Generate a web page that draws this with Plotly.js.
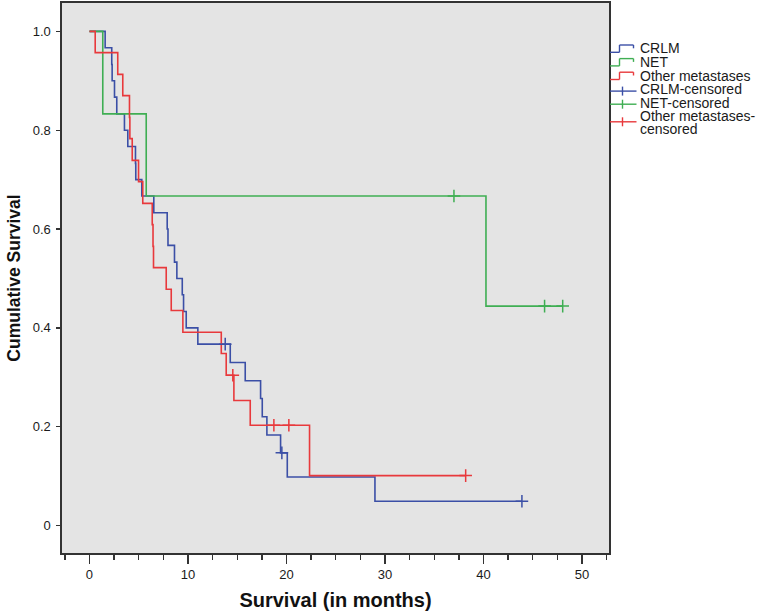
<!DOCTYPE html>
<html>
<head>
<meta charset="utf-8">
<script src="https://cdn.plot.ly/plotly-3.0.1.min.js"></script>
<style>html,body{margin:0;padding:0;background:#fff;}#chart{width:764px;height:616px;}</style>
</head>
<body>
<div id="chart"></div>
<script>
// ---- Data ----
const seriesNames = ["CRLM", "NET", "Other metastases"];

const crlmTime = [0, 1.59, 2.26, 2.30, 2.54, 2.77, 3.55, 3.89, 4.67, 4.70, 5.31, 6.53, 7.89, 7.97, 8.63, 8.87, 9.42, 9.55, 9.82, 11.0, 14.29, 15.81, 17.37, 17.54, 18.01, 19.40, 20.08, 28.98, 43.9];
const crlmSurv = [1, 0.967, 0.933, 0.900, 0.867, 0.833, 0.800, 0.767, 0.733, 0.700, 0.667, 0.633, 0.600, 0.567, 0.533, 0.500, 0.467, 0.433, 0.400, 0.367, 0.330, 0.293, 0.257, 0.220, 0.183, 0.147, 0.098, 0.049, 0.049];
const crlmCensTime = [13.78, 19.53, 43.9];
const crlmCensSurv = [0.367, 0.147, 0.049];

const netTime = [0, 1.35, 5.76, 40.25, 48.04];
const netSurv = [1, 0.833, 0.667, 0.444, 0.444];
const netCensTime = [37.0, 46.2, 48.04];
const netCensSurv = [0.667, 0.444, 0.444];

const otherTime = [0, 0.58, 2.87, 3.38, 4.06, 4.10, 4.34, 4.98, 5.41, 6.37, 6.45, 6.50, 7.79, 8.30, 9.48, 13.38, 13.88, 14.66, 16.32, 22.34, 38.19];
const otherSurv = [1, 0.957, 0.913, 0.870, 0.826, 0.783, 0.739, 0.696, 0.652, 0.609, 0.565, 0.522, 0.478, 0.435, 0.391, 0.348, 0.304, 0.253, 0.203, 0.101, 0.101];
const otherCensTime = [14.55, 18.72, 20.24, 38.19];
const otherCensSurv = [0.304, 0.203, 0.203, 0.101];

const xTickVals = [0, 10, 20, 30, 40, 50];
const yTickVals = [0, 0.2, 0.4, 0.6, 0.8, 1.0];
const yTickText = ["0", "0.2", "0.4", "0.6", "0.8", "1.0"];

const legendLabels = ["CRLM", "NET", "Other metastases", "CRLM-censored", "NET-censored", "Other metastases-", "censored"];

// ---- Styling ----
const BLUE = "#3b4fa6", GREEN = "#3fae53", RED = "#e8393c";
const AXIS = "#333333";

function stepTrace(x, y, color, name) {
  return {x: x, y: y, type: "scatter", mode: "lines", name: name,
          line: {shape: "hv", color: color, width: 1.6}, hoverinfo: "skip"};
}
function censTrace(x, y, color, name) {
  return {x: x, y: y, type: "scatter", mode: "markers", name: name,
          marker: {symbol: "cross-thin", size: 9, color: color, line: {color: color, width: 1.5}}, hoverinfo: "skip"};
}

const data = [
  stepTrace(crlmTime, crlmSurv, BLUE, seriesNames[0]),
  stepTrace(netTime, netSurv, GREEN, seriesNames[1]),
  stepTrace(otherTime, otherSurv, RED, seriesNames[2]),
  censTrace(crlmCensTime, crlmCensSurv, BLUE, seriesNames[0] + "-censored"),
  censTrace(netCensTime, netCensSurv, GREEN, seriesNames[1] + "-censored"),
  censTrace(otherCensTime, otherCensSurv, RED, seriesNames[2] + "-censored")
];

// ---- Custom legend (pixel -> paper helpers) ----
const M = {l: 62, r: 155, t: 3, b: 63};
const W = 764 - M.l - M.r, H = 616 - M.t - M.b;
const px = v => (v - M.l) / W;
const py = v => 1 - (v - M.t) / H;

const shapes = [];
const annotations = [];
const legColors = [BLUE, GREEN, RED];
const rowY = [48.3, 61.9, 75.5, 89.1, 102.7, 116.3, 129.0];
for (let i = 0; i < 3; i++) {
  const c = rowY[i];
  const pts = [[610, c + 4], [619.5, c + 4], [619.5, c - 3.3], [633.5, c - 3.3], [633.5, c]];
  for (let k = 0; k < pts.length - 1; k++) {
    shapes.push({type: "line", xref: "paper", yref: "paper",
      x0: px(pts[k][0]), y0: py(pts[k][1]), x1: px(pts[k + 1][0]), y1: py(pts[k + 1][1]),
      line: {color: legColors[i], width: 1.4}});
  }
}
const censRows = [[rowY[3] + 2, BLUE], [rowY[4] + 1.5, GREEN], [rowY[5] + 5.5, RED]];
censRows.forEach(([c, col]) => {
  shapes.push({type: "line", xref: "paper", yref: "paper", x0: px(610), x1: px(636.5), y0: py(c), y1: py(c), line: {color: col, width: 1.4}});
  shapes.push({type: "line", xref: "paper", yref: "paper", x0: px(622.5), x1: px(622.5), y0: py(c - 4.5), y1: py(c + 4.5), line: {color: col, width: 1.4}});
});
legendLabels.forEach((t, i) => {
  annotations.push({xref: "paper", yref: "paper", x: px(639), y: py(rowY[i]), xanchor: "left", yanchor: "middle",
    text: t, showarrow: false, borderpad: 0, font: {family: "Liberation Sans, Arial, sans-serif", size: 14, color: "#1a1a1a"}});
});

const layout = {
  width: 764, height: 616,
  margin: M,
  paper_bgcolor: "#ffffff",
  plot_bgcolor: "#e4e4e4",
  showlegend: false,
  xaxis: {
    range: [-2.79, 52.74], tickmode: "array", tickvals: xTickVals,
    ticks: "outside", ticklen: 9, tickwidth: 1.6, tickcolor: AXIS,
    minor: {tickmode: "linear", tick0: 0, dtick: 2.5, ticks: "outside", ticklen: 5, tickwidth: 1.3, tickcolor: AXIS, showgrid: false},
    showline: true, linecolor: AXIS, linewidth: 1.6, mirror: true,
    showgrid: false, zeroline: false,
    tickfont: {family: "Liberation Sans, Arial, sans-serif", size: 13, color: "#1a1a1a"},
    title: {text: "Survival (in months)", standoff: 12,
            font: {family: "Liberation Sans, Arial, sans-serif", size: 20, color: "#111", weight: "bold"}}
  },
  yaxis: {
    range: [-0.0557, 1.0575], tickmode: "array", tickvals: yTickVals, ticktext: yTickText,
    ticks: "outside", ticklen: 4, tickwidth: 1.4, tickcolor: AXIS, ticklabelstandoff: 3,
    showline: true, linecolor: AXIS, linewidth: 1.6, mirror: true,
    showgrid: false, zeroline: false,
    tickfont: {family: "Liberation Sans, Arial, sans-serif", size: 13, color: "#1a1a1a"},
    title: {text: "Cumulative Survival", standoff: 7,
            font: {family: "Liberation Sans, Arial, sans-serif", size: 17.5, color: "#111", weight: "bold"}}
  },
  shapes: shapes,
  annotations: annotations
};

Plotly.newPlot("chart", data, layout, {staticPlot: true, displayModeBar: false});
</script>
</body>
</html>
